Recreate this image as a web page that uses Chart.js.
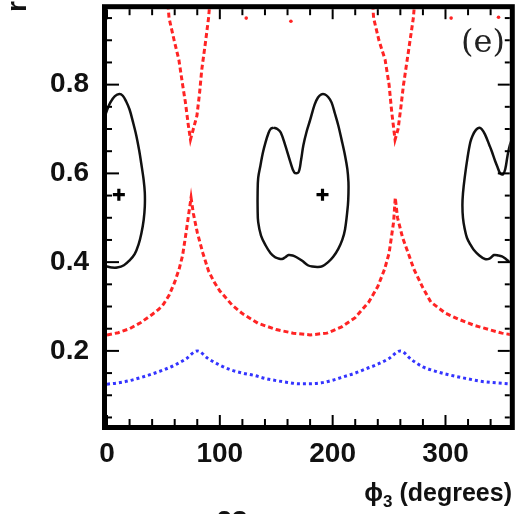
<!DOCTYPE html>
<html>
<head>
<meta charset="utf-8">
<script src="https://cdn.jsdelivr.net/npm/chart.js@4.4.1/dist/chart.umd.min.js"></script>
<style>
  html, body { margin: 0; padding: 0; background: #fff; }
</style>
</head>
<body>
<canvas id="chart1" width="519" height="514"></canvas>
<script>
// axis labels
var xTicks = [0, 100, 200, 300];
var yTicks = [0.2, 0.4, 0.6, 0.8];

// blue dotted curve
var bluePhi = [0, 10, 20, 30, 40, 50, 60, 70, 80, 90, 100, 110, 120, 130, 140, 150, 160, 170, 180,
               190, 200, 210, 220, 230, 240, 250, 260, 270, 280, 290, 300, 310, 320, 330, 340, 350, 360];
var blueR = [0.125, 0.128, 0.133, 0.140, 0.148, 0.157, 0.168, 0.182, 0.200, 0.182, 0.168, 0.157, 0.150,
             0.145, 0.138, 0.133, 0.129, 0.126, 0.126, 0.128, 0.134, 0.142, 0.150, 0.160, 0.170, 0.183,
             0.200, 0.180, 0.164, 0.155, 0.148, 0.142, 0.137, 0.132, 0.129, 0.127, 0.125];

// red dashed lower curve (with cusps)
var redLowPhi = [0, 10, 20, 30, 40, 46, 50, 55, 60, 64, 67, 70, 72.5, 74.5, 76.5, 80, 85, 90, 95, 100,
                 111, 120, 134, 150, 165, 180, 195, 208, 220, 232, 240, 246, 250, 254, 255.5, 257.5,
                 262, 267, 272, 280, 287, 300, 311, 325, 340, 350, 360];
var redLowR = [0.236, 0.241, 0.250, 0.264, 0.282, 0.294, 0.305, 0.325, 0.355, 0.385, 0.415, 0.465,
               0.510, 0.545, 0.510, 0.467, 0.420, 0.380, 0.355, 0.335, 0.303, 0.284, 0.262, 0.248,
               0.240, 0.236, 0.240, 0.254, 0.275, 0.310, 0.345, 0.384, 0.420, 0.490, 0.545, 0.500,
               0.455, 0.420, 0.384, 0.342, 0.310, 0.285, 0.272, 0.258, 0.247, 0.240, 0.236];

// red dashed upper V curves
var redV1Phi = [54, 55, 59.5, 63.7, 67, 69.5, 72, 74, 76.5, 79.7, 82, 84, 87, 90, 91];
var redV1R = [0.98, 0.95, 0.90, 0.856, 0.80, 0.76, 0.71, 0.676, 0.70, 0.73, 0.78, 0.834, 0.89, 0.95, 0.98];
var redV2Phi = [235.5, 236.3, 241, 246.5, 250, 252.4, 255.3, 258, 260.5, 262.7, 267, 271.5, 272.5];
var redV2R = [0.98, 0.95, 0.90, 0.856, 0.80, 0.737, 0.676, 0.70, 0.75, 0.798, 0.872, 0.95, 0.98];
var redBitPhi = [123.4, 163, 305, 347];
var redBitR = [0.95, 0.943, 0.95, 0.952];

// black contours
var contAPhi = [-3, 0, 3, 7, 11, 14, 17, 20, 23, 26, 28.5, 30.5, 32.5, 33.5, 33.5, 32.5, 30.5, 28, 24.5,
                20, 15, 9, 4, 0, -3];
var contAR = [0.72, 0.742, 0.760, 0.774, 0.779, 0.775, 0.762, 0.744, 0.716, 0.685, 0.652, 0.62, 0.585,
              0.557, 0.525, 0.495, 0.465, 0.44, 0.418, 0.404, 0.393, 0.388, 0.388, 0.39, 0.392];
var contBPhi = [147.6, 151, 154, 158, 162.6, 166, 169.6, 172, 174, 177, 180, 184, 187, 190, 193, 196,
                199, 202, 205, 208, 211, 213, 214, 214, 213.5, 211, 208.5, 205, 200.5, 196, 191, 187,
                182, 178, 173, 168, 164.5, 161, 158, 155, 151, 149, 145, 140.5, 136.5, 134, 133.5,
                133.5, 134, 136, 138, 140.5, 143, 145, 147.6];
var contBR = [0.703, 0.700, 0.692, 0.663, 0.625, 0.602, 0.602, 0.63, 0.663, 0.695, 0.72, 0.755, 0.771,
              0.778, 0.778, 0.772, 0.76, 0.735, 0.708, 0.675, 0.64, 0.61, 0.58, 0.555, 0.528, 0.474,
              0.45, 0.43, 0.412, 0.4, 0.391, 0.389, 0.39, 0.393, 0.403, 0.411, 0.415, 0.416, 0.411,
              0.407, 0.409, 0.411, 0.42, 0.438, 0.46, 0.49, 0.52, 0.557, 0.59, 0.618, 0.645, 0.67,
              0.69, 0.70, 0.703];
var contCPhi = [362, 360, 357, 355, 353, 351, 348.5, 346, 344, 341, 339, 335, 332, 330, 327, 324, 322,
                319.5, 317, 315.5, 315, 315.5, 317, 319, 322, 325, 330, 335, 339, 343, 347, 350, 353,
                356, 360, 363];
var contCR = [0.70, 0.685, 0.663, 0.64, 0.61, 0.598, 0.600, 0.615, 0.628, 0.65, 0.663, 0.688, 0.700,
              0.703, 0.698, 0.685, 0.67, 0.635, 0.59, 0.555, 0.528, 0.50, 0.475, 0.455, 0.44, 0.428,
              0.415, 0.407, 0.408, 0.416, 0.415, 0.413, 0.408, 0.402, 0.398, 0.396];

// best-fit markers
var bestPhi = [10.5, 191];
var bestR = [0.552, 0.552];

function pts(xs, ys) {
  return xs.map(function (x, i) { return { x: x, y: ys[i] }; });
}

var RED = '#ff2424';
var BLUE = '#3434ff';
var INK = '#111';

var frameAndText = {
  id: 'frameAndText',
  afterDraw: function (chart) {
    var ctx = chart.ctx, a = chart.chartArea;
    var xs = chart.scales.x, ys = chart.scales.y;
    function seg(x1, y1, x2, y2) {
      ctx.beginPath(); ctx.moveTo(x1, y1); ctx.lineTo(x2, y2); ctx.stroke();
    }
    ctx.save();
    ctx.strokeStyle = '#000';
    ctx.lineWidth = 2;
    for (var v = 0; v <= xs.max; v += 20) {
      var px = xs.getPixelForValue(v);
      var len = v % 100 === 0 ? 10 : 6;
      seg(px, a.bottom, px, a.bottom - len);
      seg(px, a.top, px, a.top + len);
    }
    for (var k = 1; k * 0.05 < ys.max; k++) {
      var yv = k * 0.05;
      if (yv < ys.min) continue;
      var py = ys.getPixelForValue(yv);
      var l2 = k % 4 === 0 ? 12 : 5;
      seg(a.left, py, a.left + l2, py);
      seg(a.right, py, a.right - l2, py);
    }
    ctx.lineWidth = 5;
    ctx.strokeRect(a.left - 2.5, a.top - 2.5, a.width + 5, a.height + 5);

    ctx.fillStyle = INK;
    // x axis title, right aligned
    var big = 'bold 25px "Liberation Sans"', sub = 'bold 17px "Liberation Sans"';
    ctx.font = big;
    var w1 = ctx.measureText('\u03d5').width;
    var w3 = ctx.measureText(' (degrees)').width;
    ctx.font = sub;
    var w2 = ctx.measureText('3').width;
    var x0 = 512 - (w1 + w2 + w3);
    ctx.textBaseline = 'alphabetic';
    ctx.textAlign = 'left';
    ctx.font = big;
    ctx.fillText('\u03d5', x0, 501);
    ctx.font = sub;
    ctx.fillText('3', x0 + w1, 507);
    ctx.font = big;
    ctx.fillText(' (degrees)', x0 + w1 + w2, 501);

    // panel tag
    ctx.fillStyle = '#222';
    ctx.font = '32px "DejaVu Serif"';
    ctx.fillText('(e)', 461, 52);

    // clipped y title at top left
    ctx.fillStyle = INK;
    ctx.font = 'bold 28px "Liberation Sans"';
    ctx.save();
    ctx.translate(26, 12);
    ctx.rotate(-Math.PI / 2);
    ctx.fillText('r', 0, 0);
    ctx.restore();

    // clipped caption below
    ctx.textAlign = 'center';
    ctx.fillText('23', 232, 530);
    ctx.restore();
  }
};

function noPad(s) {
  s.paddingTop = 0; s.paddingBottom = 0; s.paddingLeft = 0; s.paddingRight = 0;
}

var ctx = document.getElementById('chart1').getContext('2d');
var chart = new Chart(ctx, {
  type: 'scatter',
  data: {
    datasets: [
      { data: pts(bluePhi, blueR), showLine: true, borderColor: BLUE, borderWidth: 3,
        borderDash: [3, 3], pointRadius: 0, cubicInterpolationMode: 'monotone', clip: 0 },
      { data: pts(redLowPhi, redLowR), showLine: true, borderColor: RED, borderWidth: 3,
        borderDash: [5, 3], pointRadius: 0, tension: 0, clip: 0 },
      { data: pts(redV1Phi, redV1R), showLine: true, borderColor: RED, borderWidth: 3,
        borderDash: [5, 3], pointRadius: 0, tension: 0, clip: 0 },
      { data: pts(redV2Phi, redV2R), showLine: true, borderColor: RED, borderWidth: 3,
        borderDash: [5, 3], pointRadius: 0, tension: 0, clip: 0 },
      { data: pts(redBitPhi, redBitR), showLine: false, pointRadius: 1.8, pointBackgroundColor: RED,
        pointBorderWidth: 0, clip: 0 },
      { data: pts(contAPhi, contAR), showLine: true, borderColor: INK, borderWidth: 2.5,
        pointRadius: 0, tension: 0.35, clip: 0 },
      { data: pts(contBPhi, contBR), showLine: true, borderColor: INK, borderWidth: 2.5,
        pointRadius: 0, tension: 0.35, clip: 0 },
      { data: pts(contCPhi, contCR), showLine: true, borderColor: INK, borderWidth: 2.5,
        pointRadius: 0, tension: 0.35, clip: 0 },
      { data: pts(bestPhi, bestR), showLine: false, pointStyle: 'cross', pointRadius: 6,
        borderColor: '#000', pointBorderWidth: 3.2 }
    ]
  },
  options: {
    responsive: false,
    animation: false,
    devicePixelRatio: 1,
    layout: { padding: { top: 6, right: 6, left: 0, bottom: 0 } },
    plugins: { legend: { display: false }, tooltip: { enabled: false } },
    scales: {
      x: {
        type: 'linear', min: 0, max: 357,
        grid: { display: false, drawTicks: false },
        border: { display: false },
        afterBuildTicks: function (s) { s.ticks = xTicks.map(function (v) { return { value: v }; }); },
        afterFit: function (s) { s.height = 89; noPad(s); },
        ticks: { autoSkip: false, maxRotation: 0, padding: 12, color: INK,
                 font: { family: 'Liberation Sans', size: 28, weight: 'bold' } }
      },
      y: {
        type: 'linear', min: 0.033, max: 0.97,
        grid: { display: false, drawTicks: false },
        border: { display: false },
        afterBuildTicks: function (s) { s.ticks = yTicks.map(function (v) { return { value: v }; }); },
        afterFit: function (s) { s.width = 107; noPad(s); },
        ticks: { padding: 18, color: INK,
                 callback: function (v) { return v.toFixed(1); },
                 font: { family: 'Liberation Sans', size: 28, weight: 'bold' } }
      }
    }
  },
  plugins: [frameAndText]
});
</script>
</body>
</html>
